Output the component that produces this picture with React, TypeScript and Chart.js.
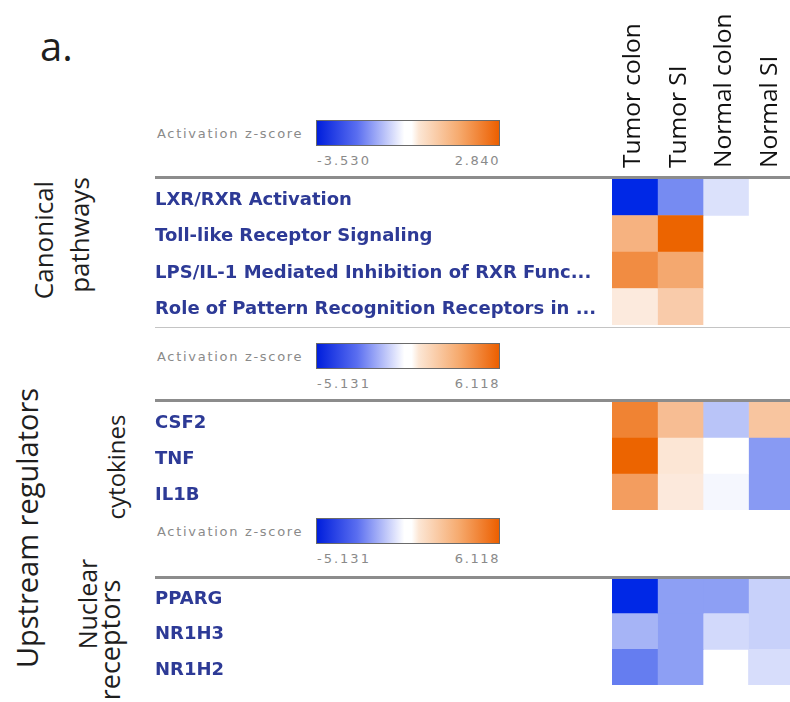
import React, { useEffect, useRef } from 'react';
import { Chart, registerables } from 'chart.js';

Chart.register(...registerables);

// ---------- data ----------
const COLUMNS = ['Tumor colon', 'Tumor SI', 'Normal colon', 'Normal SI'];

const PATHWAY_ROWS = [
  'LXR/RXR Activation',
  'Toll-like Receptor Signaling',
  'LPS/IL-1 Mediated Inhibition of RXR Func...',
  'Role of Pattern Recognition Receptors in ...',
];
const PATHWAY_TUMOR_COLON = [-3.53, 1.42, 2.1, 0.38];
const PATHWAY_TUMOR_SI = [-1.9, 2.84, 1.6, 0.95];
const PATHWAY_NORMAL_COLON = [-0.5, null, null, null];
const PATHWAY_NORMAL_SI = [null, null, null, null];
const PATHWAY_RANGE = [-3.53, 2.84];
const PATHWAY_RANGE_LABELS = ['-3.530', '2.840'];

const CYTOKINE_ROWS = ['CSF2', 'TNF', 'IL1B'];
const CYTOKINE_TUMOR_COLON = [4.9, 6.118, 3.85];
const CYTOKINE_TUMOR_SI = [2.6, 1.0, 0.85];
const CYTOKINE_NORMAL_COLON = [-1.4, 0, -0.2];
const CYTOKINE_NORMAL_SI = [2.3, -2.4, -2.4];

const NUCLEAR_ROWS = ['PPARG', 'NR1H3', 'NR1H2'];
const NUCLEAR_TUMOR_COLON = [-5.131, -1.8, -3.1];
const NUCLEAR_TUMOR_SI = [-2.3, -2.3, -2.3];
const NUCLEAR_NORMAL_COLON = [-2.3, -0.9, null];
const NUCLEAR_NORMAL_SI = [-1.1, -1.1, -0.8];

const REGULATOR_RANGE = [-5.131, 6.118];
const REGULATOR_RANGE_LABELS = ['-5.131', '6.118'];

// ---------- colours ----------
const BLUE = [0, 40, 230];
const ORANGE = [236, 100, 0];

function zColor(v: number | null, range: number[]) {
  if (v == null) return 'rgba(0,0,0,0)';
  const t = v < 0 ? Math.min(1, v / range[0]) : Math.min(1, v / range[1]);
  const c = v < 0 ? BLUE : ORANGE;
  const mix = (a: number) => Math.round(255 + (a - 255) * t);
  return `rgb(${mix(c[0])},${mix(c[1])},${mix(c[2])})`;
}

const LABEL_FONT = 'DejaVu Sans';
const TITLE_FONT = '"Open Sans"';

type HeatProps = {
  rows: string[];
  values: (number | null)[][];
  range: number[];
  header: boolean;
  left: number;
  top: number;
  width: number;
  height: number;
  headerHeight: number;
};

function Heatmap({ rows, values, range, header, left, top, width, height, headerHeight }: HeatProps) {
  const ref = useRef<HTMLCanvasElement | null>(null);
  useEffect(() => {
    const datasets = COLUMNS.map((col, c) => ({
      label: col,
      data: values[c].map((v) => (v == null ? null : [c, c + 1])),
      backgroundColor: values[c].map((v) => zColor(v, range)),
      borderWidth: 0,
      grouped: false,
      barPercentage: 1,
      categoryPercentage: 1,
    }));
    const chart = new Chart(ref.current as HTMLCanvasElement, {
      type: 'bar',
      data: { labels: rows, datasets: datasets as any },
      options: {
        indexAxis: 'y',
        animation: false,
        responsive: false,
        devicePixelRatio: 1,
        layout: { padding: 0 },
        plugins: { legend: { display: false }, tooltip: { enabled: false } },
        scales: {
          x: {
            type: 'linear',
            position: 'top',
            min: 0,
            max: 4,
            display: header,
            grid: { display: false, drawTicks: false },
            border: { display: false },
            afterBuildTicks: (axis: any) => {
              axis.ticks = COLUMNS.map((_, i) => ({ value: i + 0.5 }));
            },
            afterFit: (axis: any) => {
              axis.height = headerHeight;
              axis.paddingLeft = 0;
              axis.paddingRight = 0;
            },
            ticks: {
              autoSkip: false,
              minRotation: 90,
              maxRotation: 90,
              padding: 11,
              labelOffset: 28,
              color: '#111',
              font: { family: 'Open Sans', size: 24.5 },
              callback: (_v: any, i: number) => COLUMNS[i],
            },
          },
          y: {
            type: 'category',
            grid: { display: false, drawTicks: false },
            border: { display: false },
            afterFit: (axis: any) => {
              axis.width = 457;
              axis.paddingTop = 0;
              axis.paddingBottom = 0;
            },
            ticks: {
              crossAlign: 'far',
              padding: 0,
              labelOffset: 3,
              color: '#2d3a96',
              font: { family: LABEL_FONT, size: 18, weight: 'bold' },
            },
          },
        },
      } as any,
    });
    return () => chart.destroy();
  }, []);
  return (
    <canvas
      ref={ref}
      width={width}
      height={height}
      style={{ position: 'absolute', left, top, width, height, display: 'block' }}
    />
  );
}

function ZLegend({ barTop, labels }: { barTop: number; labels: string[] }) {
  const gray = '#8a8a8a';
  const small: React.CSSProperties = {
    position: 'absolute',
    fontFamily: LABEL_FONT,
    fontSize: 13,
    lineHeight: '13px',
    color: gray,
    whiteSpace: 'nowrap',
  };
  return (
    <>
      <div style={{ ...small, left: 157, top: barTop + 14 - 7, letterSpacing: '1.7px' }}>Activation z-score</div>
      <div
        style={{
          position: 'absolute',
          left: 316,
          top: barTop,
          width: 184,
          height: 26,
          boxSizing: 'border-box',
          border: '1px solid #6a6a6a',
          background:
            'linear-gradient(to right, rgb(0,30,220) 0%, rgb(90,110,240) 22%, rgb(255,255,255) 48%, rgb(255,255,255) 52%, rgb(252,230,212) 56%, rgb(246,170,110) 78%, rgb(236,95,0) 100%)',
        }}
      />
      <div style={{ ...small, left: 317, top: barTop + 41 - 7, letterSpacing: '2px' }}>{labels[0]}</div>
      <div style={{ ...small, left: 380, width: 120, textAlign: 'right', top: barTop + 41 - 7, letterSpacing: '1.6px' }}>
        {labels[1]}
      </div>
    </>
  );
}

function HLine({ y, thick }: { y: number; thick: boolean }) {
  return (
    <div
      style={{
        position: 'absolute',
        left: 155,
        width: 640,
        top: thick ? y - 2 : y,
        height: thick ? 3 : 1,
        background: thick ? '#8c8c8c' : '#c4c4c4',
      }}
    />
  );
}

function RotText({ x, y, size, text }: { x: number; y: number; size: number; text: string }) {
  return (
    <div
      style={{
        position: 'absolute',
        left: x,
        top: y,
        transform: 'translate(-50%, -50%) rotate(-90deg)',
        whiteSpace: 'nowrap',
        fontFamily: TITLE_FONT,
        fontSize: size,
        lineHeight: `${size}px`,
        color: '#1e1e1e',
      }}
    >
      {text}
    </div>
  );
}

export default function App() {
  return (
    <div
      style={{
        position: 'fixed',
        left: 0,
        top: 0,
        width: 790,
        height: 702,
        overflow: 'hidden',
        background: '#ffffff',
      }}
    >
      <div
        style={{
          position: 'absolute',
          left: 40,
          top: 26,
          fontFamily: TITLE_FONT,
          fontSize: 40,
          lineHeight: '40px',
          color: '#1e1e1e',
        }}
      >
        a.
      </div>

      <RotText x={43} y={240} size={26} text="Canonical" />
      <RotText x={79} y={235} size={26} text="pathways" />
      <RotText x={26} y={528} size={29} text="Upstream regulators" />
      <RotText x={116} y={467} size={24} text="cytokines" />
      <RotText x={87} y={604} size={25} text="Nuclear" />
      <RotText x={109} y={640} size={27} text="receptors" />

      <ZLegend barTop={120} labels={PATHWAY_RANGE_LABELS} />
      <Heatmap
        rows={PATHWAY_ROWS}
        values={[PATHWAY_TUMOR_COLON, PATHWAY_TUMOR_SI, PATHWAY_NORMAL_COLON, PATHWAY_NORMAL_SI]}
        range={PATHWAY_RANGE}
        header={true}
        left={155}
        top={0}
        width={639}
        height={325}
        headerHeight={179}
      />
      <HLine y={178} thick={true} />
      <HLine y={327} thick={false} />

      <ZLegend barTop={343} labels={REGULATOR_RANGE_LABELS} />
      <Heatmap
        rows={CYTOKINE_ROWS}
        values={[CYTOKINE_TUMOR_COLON, CYTOKINE_TUMOR_SI, CYTOKINE_NORMAL_COLON, CYTOKINE_NORMAL_SI]}
        range={REGULATOR_RANGE}
        header={false}
        left={155}
        top={402}
        width={639}
        height={108}
        headerHeight={0}
      />
      <HLine y={401} thick={true} />

      <ZLegend barTop={518} labels={REGULATOR_RANGE_LABELS} />
      <Heatmap
        rows={NUCLEAR_ROWS}
        values={[NUCLEAR_TUMOR_COLON, NUCLEAR_TUMOR_SI, NUCLEAR_NORMAL_COLON, NUCLEAR_NORMAL_SI]}
        range={REGULATOR_RANGE}
        header={false}
        left={155}
        top={578}
        width={639}
        height={107}
        headerHeight={0}
      />
      <HLine y={578} thick={true} />
    </div>
  );
}
